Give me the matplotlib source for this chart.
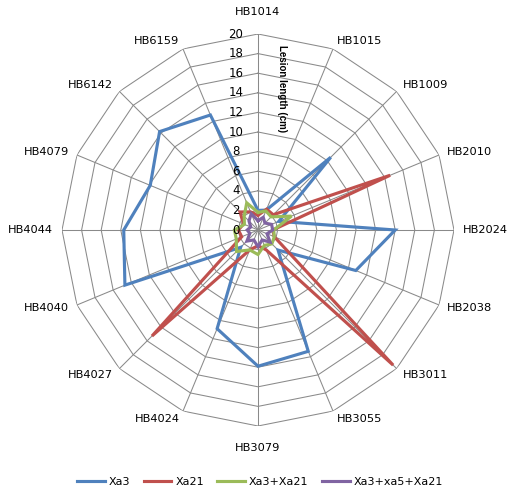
import numpy as np
import matplotlib
matplotlib.use('Agg')
import matplotlib.pyplot as plt
from matplotlib.transforms import offset_copy

# categories, clockwise from the top
cats = ['HB1014', 'HB1015', 'HB1009', 'HB2010', 'HB2024', 'HB2038', 'HB3011', 'HB3055',
        'HB3079', 'HB4024', 'HB4027', 'HB4040', 'HB4044', 'HB4079', 'HB6142', 'HB6159']

xa3 = [2.0, 2.2, 10.5, 2.3, 14.0, 10.8, 2.9, 13.4, 13.9, 10.9, 2.5, 14.7, 13.7, 11.9, 14.2, 12.7]
xa21 = [1.5, 2.3, 2.2, 14.6, 1.5, 1.8, 19.5, 2.2, 1.6, 2.2, 15.3, 1.8, 2.0, 1.6, 2.6, 2.0]
xa3_xa21 = [1.8, 2.1, 1.9, 3.7, 1.6, 1.8, 2.0, 1.7, 2.5, 2.2, 3.1, 2.4, 2.4, 1.5, 2.0, 3.0]
xa3_xa5_xa21 = [0.95, 1.4, 1.0, 1.5, 1.5, 1.0, 1.75, 1.1, 1.7, 1.1, 1.6, 0.9, 1.1, 0.8, 1.3, 1.8]

series = [('Xa3', xa3, '#4F81BD'),
          ('Xa21', xa21, '#C0504D'),
          ('Xa3+Xa21', xa3_xa21, '#9BBB59'),
          ('Xa3+xa5+Xa21', xa3_xa5_xa21, '#8064A2')]

rticks = list(range(0, 21, 2))

fig = plt.figure(figsize=(5.2, 4.97), dpi=100)
cx, cy, rad = 258 / 520, 1 - 230 / 497, 196
ax = fig.add_axes([cx - rad / 520, cy - rad / 497, 2 * rad / 520, 2 * rad / 497],
                  projection='polar')
ax.set_theta_zero_location('N')
ax.set_theta_direction(-1)
ax.set_ylim(0, 20)
ax.grid(False)
ax.set_xticks([])
ax.set_yticks([])
ax.spines['polar'].set_visible(False)
ax.patch.set_alpha(0)

n = len(cats)
ang = np.arange(n) * 2 * np.pi / n
closed = np.append(ang, ang[0])

# excel style polygon grid
grid_c = '#8A8A8A'
for r in rticks[1:]:
    ax.plot(closed, [r] * (n + 1), color=grid_c, lw=0.75, zorder=1)
for a in ang:
    ax.plot([a, a], [0, 20], color=grid_c, lw=0.75, zorder=1)

for name, vals, col in series:
    ax.plot(closed, vals + vals[:1], color=col, lw=2.25, label=name, zorder=3,
            solid_joinstyle='miter')

# category labels, excel puts them beside the spoke end
for a, c in zip(ang, cats):
    s = np.sin(a)
    if abs(s) < 0.01:
        ax.text(a, 22.2, c, ha='center', va='center', fontsize=8.2)
    else:
        ax.text(a, 20.9, c, ha='left' if s > 0 else 'right', va='center', fontsize=8.2)

# radial scale along the top spoke
tr = offset_copy(ax.transData, fig=fig, x=-22, y=0, units='dots')
for r in rticks:
    ax.text(0, r, str(r), transform=tr, ha='center', va='center', fontsize=8.5, zorder=4)

fig.text(282 / 520, 1 - 89 / 497, 'Lesion length (cm)', rotation=-90, ha='center',
         va='center', fontsize=7, fontweight='bold', family='Liberation Sans')

fig.legend(loc='center', bbox_to_anchor=(0.5, 1 - 482 / 497), ncol=4, frameon=False,
           fontsize=8, handlelength=2.5, handletextpad=0.35, columnspacing=1.2)

fig.savefig('out.png', dpi=100)
